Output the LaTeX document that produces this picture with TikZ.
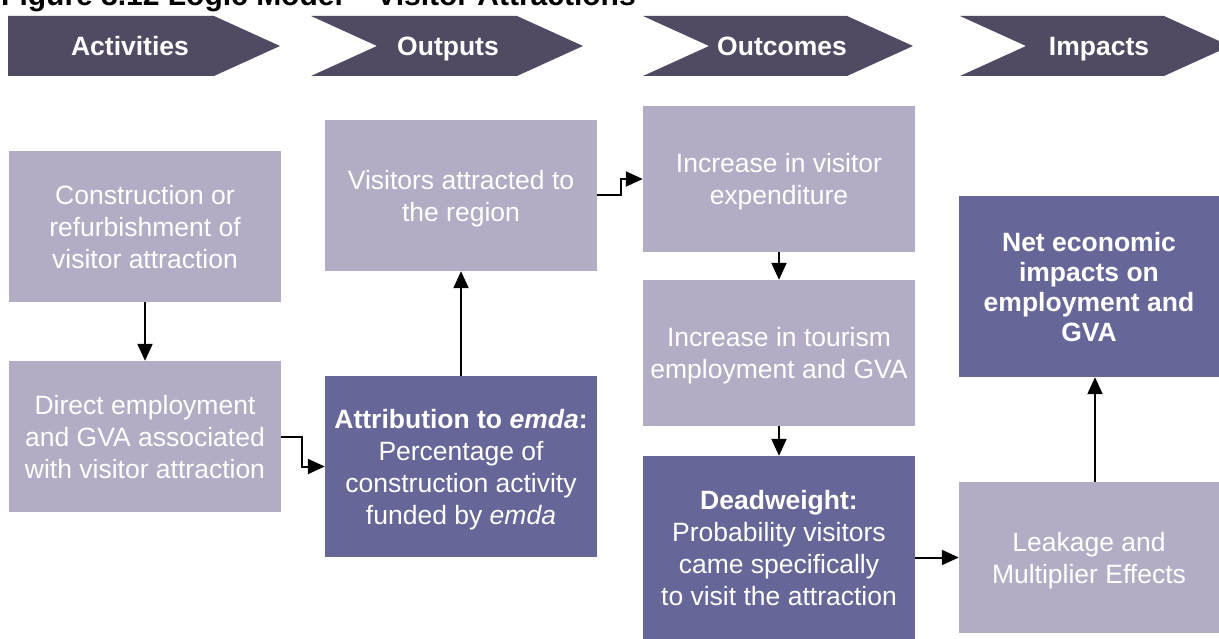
\documentclass[tikz,border=0pt]{standalone}
\usepackage{fontspec}
\setmainfont{Liberation Sans}
\usetikzlibrary{arrows.meta}
\definecolor{lightlav}{RGB}{178,173,196}
\definecolor{darklav}{RGB}{102,102,153}
\definecolor{chevgray}{RGB}{81,74,99}

\begin{document}
\begin{tikzpicture}[x=1pt,y=-1pt,
  box/.style={rectangle, inner sep=0pt, text=white, align=center, text depth=0pt,
    font=\fontsize{26.5}{32}\selectfont},
  lightbox/.style={box, fill=lightlav, minimum width=272pt, minimum height=151pt},
  darkbox/.style={box, fill=darklav, minimum width=272pt, minimum height=181pt},
  head/.style={anchor=base, text=white, inner sep=0pt, font=\fontsize{26.5}{32}\selectfont\bfseries},
  flow/.style={->, >={Triangle[length=17pt,width=15pt]}, line width=2pt}]
\useasboundingbox (0,0) rectangle (1219,639);
\clip (0,0) rectangle (1219,639);

\node[anchor=base west, inner sep=0pt, font=\fontsize{30}{32}\selectfont\bfseries]
  (title) at (1,6) {Figure 8.12 Logic Model -- Visitor Attractions};

\fill[chevgray] (8,16) -- (214,16) -- (280,46) -- (214,76) -- (8,76) -- cycle;
\fill[chevgray] (311,16) -- (517,16) -- (583,46) -- (517,76) -- (311,76) -- (377,46) -- cycle;
\fill[chevgray] (643,16) -- (847,16) -- (913,46) -- (847,76) -- (643,76) -- (709,46) -- cycle;
\fill[chevgray] (960,16) -- (1164,16) -- (1230,46) -- (1164,76) -- (960,76) -- (1026,46) -- cycle;
\node[head] (hact) at (130,55.5) {Activities};
\node[head] (hout) at (448,55.5) {Outputs};
\node[head] (hoc) at (782,55.5) {Outcomes};
\node[head] (himp) at (1099,55.5) {Impacts};

\node[lightbox] (constr) at (145,226.5) {Construction or\\refurbishment of\\visitor attraction};
\node[lightbox] (direct) at (145,436.5) {Direct employment\\and GVA associated\\with visitor attraction};
\node[lightbox] (visitors) at (461,195.5) {Visitors attracted to\\the region};
\node[darkbox] (attrib) at (461,466.5) {\textbf{Attribution to \textit{emda}:}\\Percentage of\\construction activity\\funded by \textit{emda}};
\node[lightbox, minimum height=146pt] (expend) at (779,179) {Increase in visitor\\expenditure};
\node[lightbox, minimum height=146pt] (tourism) at (779,353) {Increase in tourism\\employment and GVA};
\node[darkbox, minimum height=183pt] (deadw) at (779,547.5) {\textbf{Deadweight:}\\Probability visitors\\came specifically\\to visit the attraction};
\node[lightbox, minimum width=260pt] (leak) at (1089,557.5) {Leakage and\\Multiplier Effects};
\node[darkbox, minimum width=260pt, font=\fontsize{26.5}{30}\selectfont\bfseries] (net) at (1089,286.5) {Net economic\\impacts on\\employment and\\GVA};

\draw[flow] (constr) -- (direct);
\draw[flow] (direct.east) -- ++(21,0) |- (attrib.west);
\draw[flow] (attrib) -- (visitors);
\draw[flow] (visitors.east) -- ++(24,0) |- (expend.west);
\draw[flow] (expend) -- (tourism);
\draw[flow] (tourism) -- (deadw);
\draw[flow] (leak.west -| deadw.east) -- (leak.west);
\draw[flow] ([xshift=6pt]leak.north) -- ([xshift=6pt]net.south);
\end{tikzpicture}
\end{document}
